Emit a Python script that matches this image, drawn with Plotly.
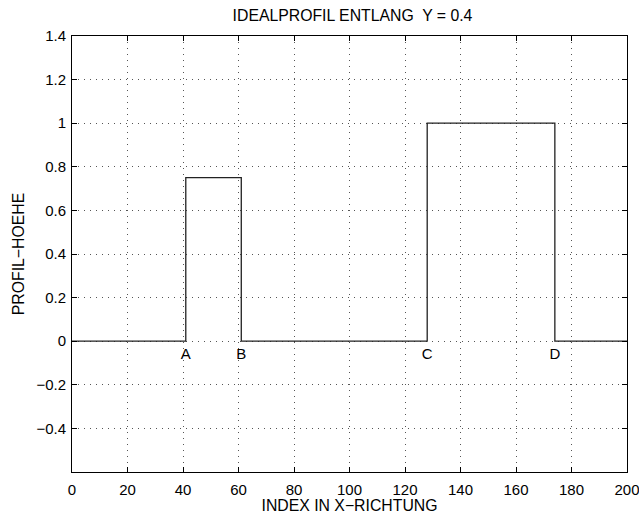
import plotly.graph_objects as go

profile_x = [0, 41, 41, 61, 61, 128, 128, 174, 174, 200]
profile_y = [0, 0, 0.75, 0.75, 0, 0, 1.0, 1.0, 0, 0]
marker_labels = ["A", "B", "C", "D"]
marker_x = [41, 61, 128, 174]
marker_y = [-0.065, -0.065, -0.065, -0.065]
x_ticks = [0, 20, 40, 60, 80, 100, 120, 140, 160, 180, 200]
y_ticks = [-0.4, -0.2, 0, 0.2, 0.4, 0.6, 0.8, 1.0, 1.2, 1.4]
y_tick_text = ["\u22120.4", "\u22120.2", "0", "0.2", "0.4", "0.6", "0.8", "1", "1.2", "1.4"]

font = dict(family="Liberation Sans, Arial, sans-serif", size=15, color="black")
title_font = dict(family="Liberation Sans, Arial, sans-serif", size=15.8, color="black")

fig = go.Figure()
fig.add_trace(go.Scatter(x=profile_x, y=profile_y, mode="lines",
                         line=dict(color="#222222", width=1.3), showlegend=False,
                         hoverinfo="skip"))
fig.add_trace(go.Scatter(x=marker_x, y=marker_y, mode="text", text=marker_labels,
                         textfont=font, textposition="middle center", showlegend=False,
                         hoverinfo="skip"))

axis_common = dict(showline=True, linecolor="black", linewidth=1, mirror="ticks",
                   ticks="inside", ticklen=5, tickcolor="black",
                   showgrid=True, gridcolor="#555555", griddash="1px,5px", gridwidth=1,
                   zeroline=False, tickfont=font, automargin=False,
                   ticklabeloverflow="allow")

fig.update_xaxes(range=[0, 200], tickvals=x_ticks, ticktext=[str(t) for t in x_ticks],
                 title=dict(text="INDEX IN X\u2212RICHTUNG", font=title_font, standoff=0),
                 ticklabelstandoff=4,
                 **axis_common)
fig.update_yaxes(range=[-0.6, 1.4], tickvals=y_ticks, ticktext=y_tick_text,
                 title=dict(text="PROFIL\u2212HOEHE", font=title_font, standoff=7),
                 ticklabelstandoff=2,
                 **axis_common)

fig.update_layout(
    width=639, height=514,
    margin=dict(l=72, r=12, t=36, b=42, autoexpand=False),
    paper_bgcolor="white", plot_bgcolor="white",
    font=font,
    title=dict(text="IDEALPROFIL ENTLANG  Y = 0.4", x=(232 + 473) / 2 / 639, xanchor="center",
               y=1 - 15.5 / 514, yanchor="middle", font=title_font),
)

fig.write_html("out.html", config={"displayModeBar": False},
               post_script="document.body.style.margin='0';")
